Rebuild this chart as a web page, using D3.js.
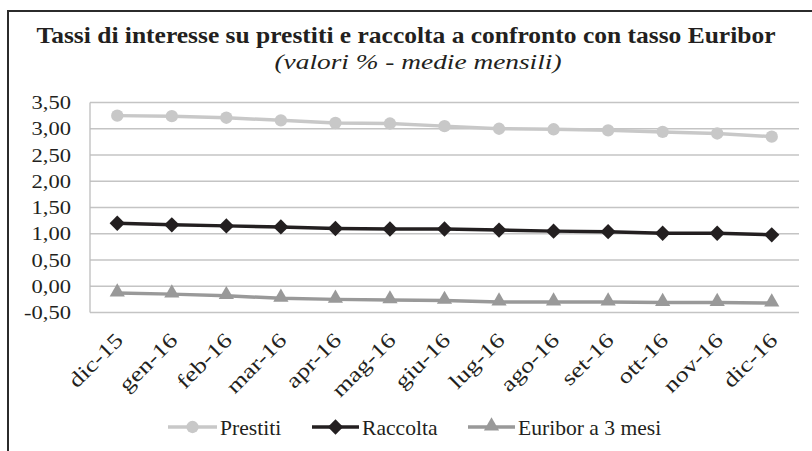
<!DOCTYPE html>
<html><head><meta charset="utf-8">
<script src="https://cdn.jsdelivr.net/npm/d3@7"></script>
<style>body{margin:0;background:#fff}svg{display:block}</style>
</head><body>
<script>
const categories = ["dic-15","gen-16","feb-16","mar-16","apr-16","mag-16","giu-16","lug-16","ago-16","set-16","ott-16","nov-16","dic-16"];
const prestiti = [3.25,3.24,3.21,3.16,3.11,3.10,3.05,3.00,2.99,2.97,2.94,2.91,2.85];
const raccolta = [1.20,1.17,1.15,1.13,1.10,1.09,1.09,1.07,1.05,1.04,1.01,1.01,0.98];
const euribor = [-0.13,-0.15,-0.18,-0.23,-0.25,-0.26,-0.27,-0.30,-0.30,-0.30,-0.31,-0.31,-0.32];
const yTicks = [-0.5,0,0.5,1,1.5,2,2.5,3,3.5];
const seriesNames = ["Prestiti","Raccolta","Euribor a 3 mesi"];
const titleText = "Tassi di interesse su prestiti e raccolta a confronto con tasso Euribor";
const subtitleText = "(valori  % - medie mensili)";

const FONT = "Liberation Serif";
const INK = "#231f20";
const W = 812, H = 451;
const SX = 1.22;
const svg = d3.select("body").append("svg").attr("width", W).attr("height", H);

// outer frame (clipped on right/bottom)
svg.append("rect").attr("x", 8).attr("y", 11).attr("width", 900).attr("height", 600)
  .attr("fill", "none").attr("stroke", "#2b2b2b").attr("stroke-width", 2);

svg.append("text").attr("x", 406).attr("y", 43).attr("text-anchor", "middle")
  .attr("font-family", FONT).attr("fill", INK)
  .attr("font-size", 24).attr("font-weight", "bold")
  .attr("textLength", 739).attr("lengthAdjust", "spacingAndGlyphs").text(titleText);
svg.append("text").attr("x", 418).attr("y", 69).attr("text-anchor", "middle")
  .attr("font-family", FONT).attr("fill", INK)
  .attr("font-size", 21).attr("font-style", "italic")
  .attr("textLength", 287).attr("lengthAdjust", "spacingAndGlyphs").text(subtitleText);

const pLeft = 90, pRight = 799, pTop = 102.5, pBottom = 312.5;
const x = d3.scaleBand().domain(categories).range([pLeft, pRight]);
const y = d3.scaleLinear().domain([-0.5, 3.5]).range([pBottom, pTop]);
const fmt = v => d3.format(".2f")(v).replace(".", ",").replace("−", "-");

// gridlines
svg.append("g").selectAll("line").data(yTicks).join("line")
  .attr("x1", pLeft).attr("x2", pRight).attr("y1", d => y(d)).attr("y2", d => y(d))
  .attr("stroke", "#c4c4c4").attr("stroke-width", 1.3);
// y axis line
svg.append("line").attr("x1", pLeft).attr("x2", pLeft).attr("y1", pTop).attr("y2", pBottom)
  .attr("stroke", "#bdbdbd").attr("stroke-width", 1.3);

// y axis labels
const yAxis = d3.axisLeft(y).tickValues(yTicks).tickFormat(fmt).tickSize(0).tickPadding(0);
const ya = svg.append("g").attr("transform", `translate(${pLeft},0)`).call(yAxis)
  .attr("font-family", FONT);
ya.select(".domain").remove();
ya.selectAll("text").attr("font-size", 18.5).attr("x", -19 / SX).attr("dy", "0.33em")
  .attr("font-family", FONT).attr("fill", INK)
  .attr("transform", `scale(${SX},1)`);

// x axis labels
const xAxis = d3.axisBottom(x).tickSize(0).tickPadding(0);
const xa = svg.append("g").attr("transform", `translate(0,${pBottom})`).call(xAxis)
  .attr("font-family", FONT);
xa.select(".domain").remove();
xa.selectAll("text").attr("font-size", 21).attr("font-family", FONT).attr("fill", INK)
  .attr("text-anchor", "end").attr("y", 0).attr("dy", 0)
  .attr("transform", "translate(7,29) rotate(-45) scale(1.25,1)");

const cx = d => x(d) + x.bandwidth() / 2;
const colors = ["#c8c8c8", "#231f20", "#999999"];
const data = [prestiti, raccolta, euribor];
const symbols = [d3.symbolCircle, d3.symbolDiamond2, d3.symbolTriangle];
const symSizes = [120, 150, 100];
const line = d3.line().x((d, i) => cx(categories[i])).y(d => y(d));

data.forEach((vals, s) => {
  svg.append("path").datum(vals).attr("d", line).attr("fill", "none")
    .attr("stroke", colors[s]).attr("stroke-width", 3.5);
  svg.append("g").selectAll("path").data(vals).join("path")
    .attr("d", d3.symbol().type(symbols[s]).size(symSizes[s]))
    .attr("transform", (d, i) => `translate(${cx(categories[i])},${y(d) + (s === 2 ? -1 : 0)})`)
    .attr("fill", colors[s]);
});

// legend
const legY = 427;
const legItems = [
  {x1: 168, x2: 217, tx: 220},
  {x1: 312, x2: 359, tx: 362},
  {x1: 468, x2: 515, tx: 518}
];
legItems.forEach((it, s) => {
  svg.append("line").attr("x1", it.x1).attr("x2", it.x2).attr("y1", legY).attr("y2", legY)
    .attr("stroke", colors[s]).attr("stroke-width", 3.5);
  svg.append("path").attr("d", d3.symbol().type(symbols[s]).size(symSizes[s])())
    .attr("transform", `translate(${(it.x1 + it.x2) / 2},${legY + (s === 2 ? -1 : 0)})`)
    .attr("fill", colors[s]);
  svg.append("text").attr("font-size", 20).attr("font-family", FONT).attr("fill", INK)
    .attr("transform", `translate(${it.tx},435) scale(1.08,1)`).text(seriesNames[s]);
});
</script>
</body></html>
